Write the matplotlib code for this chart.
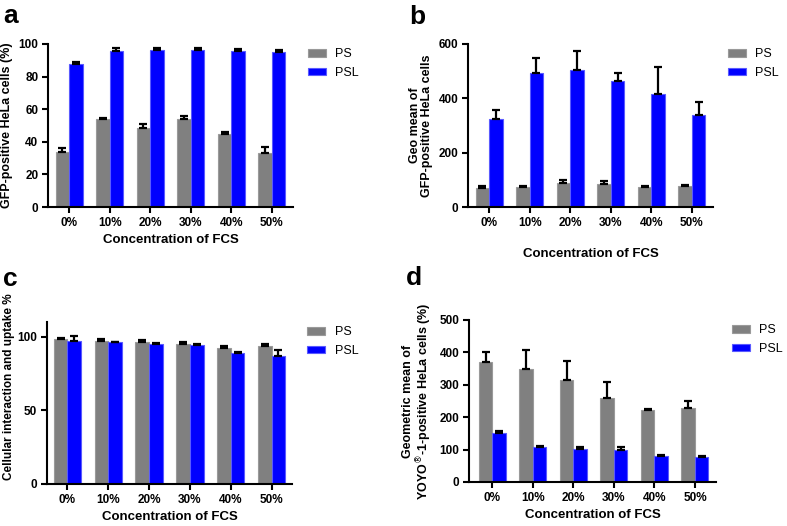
import matplotlib
matplotlib.use("Agg")
import matplotlib.pyplot as plt
import numpy as np

plt.rcParams['font.family'] = ['Liberation Sans', 'DejaVu Sans']

categories = ['0%', '10%', '20%', '30%', '40%', '50%']

a_ps = [33.9, 53.8, 48.3, 53.8, 44.6, 33.3]
a_ps_err = [2.4, 1.0, 2.8, 2.2, 1.2, 3.7]
a_psl = [87.9, 95.7, 96.1, 96.5, 95.5, 95.3]
a_psl_err = [0.8, 1.8, 1.4, 0.8, 1.4, 0.8]

b_ps = [71, 73, 90, 86, 74, 76]
b_ps_err = [6, 3, 9, 9, 5, 5]
b_psl = [323, 495, 504, 462, 415, 338]
b_psl_err = [33, 52, 69, 30, 99, 47]

c_ps = [98.6, 96.8, 96.1, 94.8, 92.1, 93.7]
c_ps_err = [0.7, 1.4, 2.0, 1.8, 1.6, 1.1]
c_psl = [97.3, 96.1, 94.8, 94.6, 88.7, 86.6]
c_psl_err = [3.4, 0.5, 0.7, 0.5, 0.6, 4.5]

d_ps = [369, 350, 314, 258, 223, 229]
d_ps_err = [32, 58, 58, 51, 3, 22]
d_psl = [152, 108, 101, 100, 79, 76]
d_psl_err = [4, 2, 8, 8, 4, 5]

GRAY = '#808080'
BLUE = '#0000FF'
W, H = 787, 526

fig = plt.figure(figsize=(W / 100, H / 100), dpi=100)


def px_axes(l, t, r, b):
    return fig.add_axes([l / W, 1 - b / H, (r - l) / W, (b - t) / H])


def panel(rect, ps, pse, psl, psle, ylim, yticks, ylabel, letter, letter_xy,
          legend_xy, xlabel_pad, xlim, ylabel_size=9, ylabel_coords=None):
    ax = px_axes(*rect)
    x = np.arange(len(categories))
    w = 0.333
    ax.bar(x - w / 2, ps, w, color=GRAY, edgecolor='#9a9a9a', linewidth=0.8, label='PS', zorder=2)
    ax.bar(x + w / 2, psl, w, color=BLUE, edgecolor='#5a5aff', linewidth=0.8, label='PSL', zorder=2)
    ax.errorbar(x - w / 2, ps, yerr=[np.zeros(len(ps)), pse], fmt='none', ecolor='black',
                elinewidth=1.6, capsize=2.8, capthick=1.6, zorder=3)
    ax.errorbar(x + w / 2, psl, yerr=[np.zeros(len(psl)), psle], fmt='none', ecolor='black',
                elinewidth=1.6, capsize=2.8, capthick=1.6, zorder=3)
    ax.set_xlim(*xlim)
    ax.set_ylim(*ylim)
    ax.set_yticks(yticks)
    ax.set_xticks(x)
    ax.set_xticklabels(categories)
    for s in ['top', 'right']:
        ax.spines[s].set_visible(False)
    for s in ['left', 'bottom']:
        ax.spines[s].set_linewidth(1.5)
    ax.tick_params(axis='both', width=1.5, length=4, labelsize=8.5, pad=3)
    for lab in ax.get_xticklabels() + ax.get_yticklabels():
        lab.set_fontweight('bold')
    ax.set_xlabel('Concentration of FCS', fontsize=9.5, fontweight='bold', labelpad=xlabel_pad)
    ax.set_ylabel(ylabel, fontsize=ylabel_size, fontweight='bold', labelpad=4, linespacing=1.0)
    if ylabel_coords is not None:
        ax.yaxis.set_label_coords(*ylabel_coords)
    fig.text(letter_xy[0] / W, 1 - letter_xy[1] / H, letter, fontsize=19, fontweight='bold',
             ha='left', va='baseline')
    ax.legend(loc='upper left', bbox_to_anchor=(legend_xy[0] / W, 1 - legend_xy[1] / H),
              bbox_transform=fig.transFigure, frameon=False, fontsize=9,
              handlelength=1.45, handleheight=0.6, labelspacing=0.55, handletextpad=0.75,
              borderpad=0, borderaxespad=0)
    return ax


panel((48, 44, 293, 207), a_ps, a_ps_err, a_psl, a_psl_err, (0, 100), [0, 20, 40, 60, 80, 100],
      'GFP-positive HeLa cells (%)', 'a', (3, 23), (308, 48), 4, (-0.52, 5.52))
panel((468, 44, 713, 207), b_ps, b_ps_err, b_psl, b_psl_err, (0, 600), [0, 200, 400, 600],
      'Geo mean of\nGFP-positive HeLa cells', 'b', (409, 24), (728, 48), 14, (-0.52, 5.52))
panel((47, 322, 292, 484), c_ps, c_ps_err, c_psl, c_psl_err, (0, 110), [0, 50, 100],
      'Cellular interaction and uptake %', 'c', (3, 286), (307, 326), 4, (-0.5, 5.5),
      ylabel_size=8.5, ylabel_coords=(-0.13, 0.6))
panel((469, 320, 716, 482), d_ps, d_ps_err, d_psl, d_psl_err, (0, 500), [0, 100, 200, 300, 400, 500],
      'Geometric mean of\nYOYO$^{\\circledR}$-1-positive HeLa cells (%)', 'd', (406, 285), (732, 324), 4,
      (-0.58, 5.52))

fig.savefig('out.png', dpi=100)
